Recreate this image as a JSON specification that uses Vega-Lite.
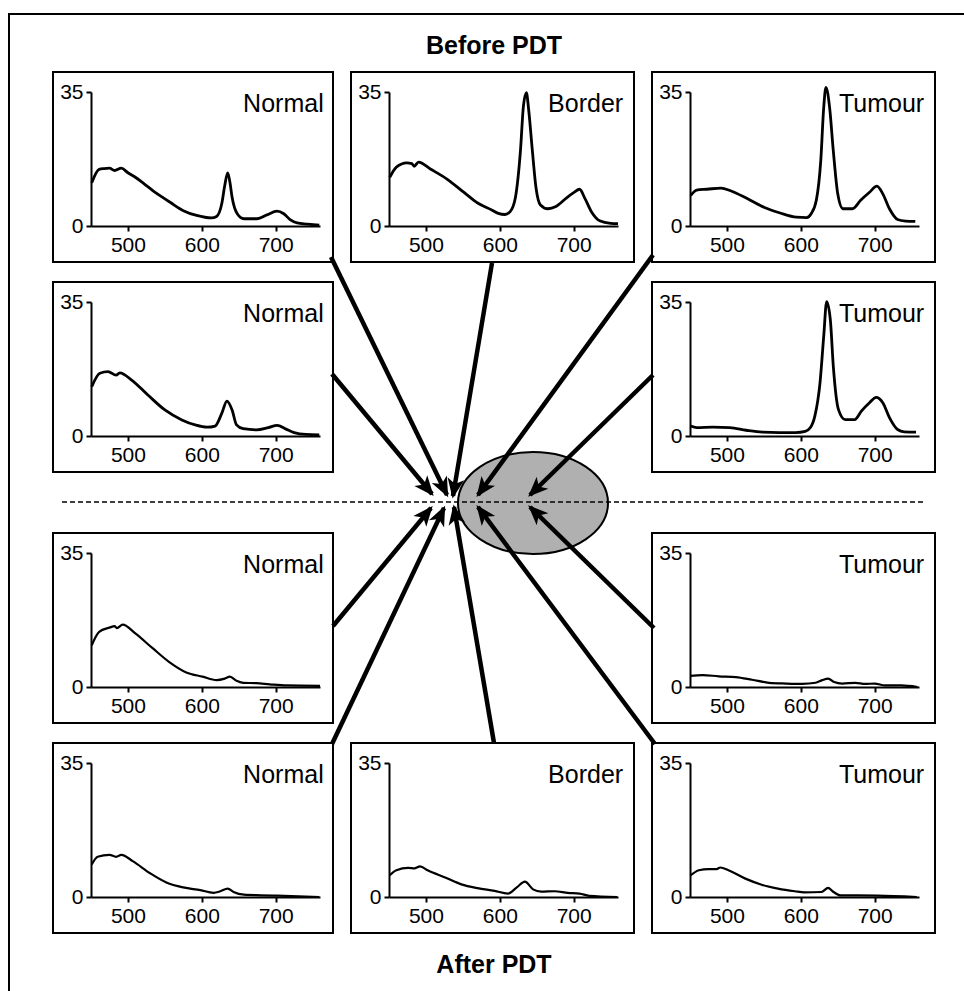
{
  "$schema": "https://vega.github.io/schema/vega-lite/v6.json",
  "padding": {"left": 7, "top": 12, "right": 0, "bottom": 0},
  "background": "white",
  "datasets": {
    "spectra": [
      {"p":"n1","nm":451,"v":11.3},{"p":"n1","nm":461,"v":14.8},{"p":"n1","nm":468,"v":15.0},{"p":"n1","nm":475,"v":15.1},{"p":"n1","nm":482,"v":14.5},{"p":"n1","nm":491,"v":15.1},{"p":"n1","nm":500,"v":13.9},{"p":"n1","nm":511,"v":12.6},{"p":"n1","nm":522,"v":11.0},{"p":"n1","nm":534,"v":9.2},{"p":"n1","nm":546,"v":7.6},{"p":"n1","nm":557,"v":6.2},{"p":"n1","nm":575,"v":4.0},{"p":"n1","nm":593,"v":2.75},{"p":"n1","nm":613,"v":2.1},{"p":"n1","nm":620,"v":2.5},{"p":"n1","nm":627,"v":5.8},{"p":"n1","nm":631,"v":10.5},{"p":"n1","nm":635,"v":13.9},{"p":"n1","nm":638,"v":11.5},{"p":"n1","nm":641,"v":7.5},{"p":"n1","nm":648,"v":3.2},{"p":"n1","nm":657,"v":1.9},{"p":"n1","nm":675,"v":1.9},{"p":"n1","nm":688,"v":2.9},{"p":"n1","nm":702,"v":3.9},{"p":"n1","nm":711,"v":3.2},{"p":"n1","nm":720,"v":1.6},{"p":"n1","nm":729,"v":0.8},{"p":"n1","nm":743,"v":0.5},{"p":"n1","nm":759,"v":0.2},
      {"p":"b1","nm":451,"v":12.7},{"p":"b1","nm":460,"v":15.4},{"p":"b1","nm":474,"v":16.5},{"p":"b1","nm":481,"v":16.3},{"p":"b1","nm":484,"v":15.6},{"p":"b1","nm":490,"v":16.7},{"p":"b1","nm":506,"v":14.9},{"p":"b1","nm":529,"v":12.2},{"p":"b1","nm":552,"v":8.7},{"p":"b1","nm":570,"v":6.0},{"p":"b1","nm":589,"v":4.2},{"p":"b1","nm":598,"v":3.3},{"p":"b1","nm":607,"v":3.0},{"p":"b1","nm":614,"v":3.75},{"p":"b1","nm":621,"v":7.3},{"p":"b1","nm":628,"v":19.8},{"p":"b1","nm":632,"v":31.4},{"p":"b1","nm":636,"v":34.8},{"p":"b1","nm":639,"v":30.5},{"p":"b1","nm":644,"v":19.8},{"p":"b1","nm":649,"v":10.0},{"p":"b1","nm":655,"v":5.5},{"p":"b1","nm":665,"v":4.5},{"p":"b1","nm":676,"v":5.1},{"p":"b1","nm":690,"v":7.3},{"p":"b1","nm":700,"v":8.7},{"p":"b1","nm":708,"v":9.6},{"p":"b1","nm":715,"v":7.3},{"p":"b1","nm":724,"v":3.75},{"p":"b1","nm":736,"v":1.3},{"p":"b1","nm":750,"v":0.7},{"p":"b1","nm":760,"v":0.6},
      {"p":"t1","nm":451,"v":8.0},{"p":"t1","nm":459,"v":9.4},{"p":"t1","nm":473,"v":9.6},{"p":"t1","nm":492,"v":9.9},{"p":"t1","nm":505,"v":9.2},{"p":"t1","nm":528,"v":7.1},{"p":"t1","nm":550,"v":4.9},{"p":"t1","nm":572,"v":3.4},{"p":"t1","nm":594,"v":2.3},{"p":"t1","nm":608,"v":2.2},{"p":"t1","nm":614,"v":3.2},{"p":"t1","nm":621,"v":6.7},{"p":"t1","nm":627,"v":17.0},{"p":"t1","nm":631,"v":30.9},{"p":"t1","nm":634,"v":36.2},{"p":"t1","nm":639,"v":30.9},{"p":"t1","nm":644,"v":19.6},{"p":"t1","nm":650,"v":8.4},{"p":"t1","nm":657,"v":4.5},{"p":"t1","nm":670,"v":4.5},{"p":"t1","nm":681,"v":6.7},{"p":"t1","nm":693,"v":8.8},{"p":"t1","nm":703,"v":10.4},{"p":"t1","nm":711,"v":8.4},{"p":"t1","nm":720,"v":4.5},{"p":"t1","nm":731,"v":1.7},{"p":"t1","nm":742,"v":1.3},{"p":"t1","nm":755,"v":1.2},
      {"p":"n2","nm":451,"v":12.9},{"p":"n2","nm":462,"v":16.4},{"p":"n2","nm":473,"v":16.8},{"p":"n2","nm":484,"v":15.9},{"p":"n2","nm":489,"v":16.5},{"p":"n2","nm":505,"v":14.6},{"p":"n2","nm":527,"v":10.7},{"p":"n2","nm":550,"v":6.8},{"p":"n2","nm":573,"v":4.2},{"p":"n2","nm":591,"v":2.9},{"p":"n2","nm":607,"v":2.3},{"p":"n2","nm":618,"v":2.6},{"p":"n2","nm":627,"v":5.9},{"p":"n2","nm":634,"v":9.1},{"p":"n2","nm":641,"v":6.8},{"p":"n2","nm":647,"v":2.9},{"p":"n2","nm":656,"v":1.9},{"p":"n2","nm":674,"v":1.6},{"p":"n2","nm":690,"v":2.2},{"p":"n2","nm":702,"v":2.8},{"p":"n2","nm":714,"v":1.8},{"p":"n2","nm":725,"v":0.9},{"p":"n2","nm":741,"v":0.4},{"p":"n2","nm":759,"v":0.3},
      {"p":"t2","nm":451,"v":2.6},{"p":"t2","nm":459,"v":2.2},{"p":"t2","nm":481,"v":2.3},{"p":"t2","nm":504,"v":2.2},{"p":"t2","nm":526,"v":1.5},{"p":"t2","nm":548,"v":1.0},{"p":"t2","nm":571,"v":0.9},{"p":"t2","nm":593,"v":0.9},{"p":"t2","nm":606,"v":1.2},{"p":"t2","nm":613,"v":2.2},{"p":"t2","nm":619,"v":5.2},{"p":"t2","nm":626,"v":13.9},{"p":"t2","nm":631,"v":26.0},{"p":"t2","nm":635,"v":35.1},{"p":"t2","nm":640,"v":30.3},{"p":"t2","nm":644,"v":18.2},{"p":"t2","nm":651,"v":6.9},{"p":"t2","nm":660,"v":4.3},{"p":"t2","nm":673,"v":4.3},{"p":"t2","nm":682,"v":6.5},{"p":"t2","nm":693,"v":8.7},{"p":"t2","nm":702,"v":10.1},{"p":"t2","nm":711,"v":8.7},{"p":"t2","nm":720,"v":4.8},{"p":"t2","nm":731,"v":1.7},{"p":"t2","nm":740,"v":1.1},{"p":"t2","nm":756,"v":1.0},
      {"p":"n3","nm":451,"v":10.9},{"p":"n3","nm":461,"v":14.4},{"p":"n3","nm":475,"v":15.5},{"p":"n3","nm":482,"v":15.9},{"p":"n3","nm":485,"v":15.4},{"p":"n3","nm":493,"v":16.3},{"p":"n3","nm":510,"v":14.0},{"p":"n3","nm":533,"v":10.2},{"p":"n3","nm":556,"v":6.5},{"p":"n3","nm":579,"v":3.8},{"p":"n3","nm":601,"v":2.7},{"p":"n3","nm":620,"v":1.8},{"p":"n3","nm":631,"v":2.2},{"p":"n3","nm":638,"v":2.7},{"p":"n3","nm":647,"v":1.6},{"p":"n3","nm":656,"v":1.1},{"p":"n3","nm":674,"v":1.0},{"p":"n3","nm":692,"v":0.7},{"p":"n3","nm":715,"v":0.4},{"p":"n3","nm":760,"v":0.3},
      {"p":"t3","nm":450,"v":2.9},{"p":"t3","nm":467,"v":3.1},{"p":"t3","nm":489,"v":2.8},{"p":"t3","nm":512,"v":2.6},{"p":"t3","nm":534,"v":1.9},{"p":"t3","nm":557,"v":1.1},{"p":"t3","nm":580,"v":0.9},{"p":"t3","nm":602,"v":0.8},{"p":"t3","nm":620,"v":1.1},{"p":"t3","nm":629,"v":1.8},{"p":"t3","nm":637,"v":2.2},{"p":"t3","nm":645,"v":1.3},{"p":"t3","nm":656,"v":0.9},{"p":"t3","nm":674,"v":1.1},{"p":"t3","nm":687,"v":0.8},{"p":"t3","nm":700,"v":0.9},{"p":"t3","nm":714,"v":0.4},{"p":"t3","nm":736,"v":0.4},{"p":"t3","nm":758,"v":0.0},
      {"p":"n4","nm":451,"v":8.5},{"p":"n4","nm":459,"v":10.5},{"p":"n4","nm":475,"v":11.0},{"p":"n4","nm":484,"v":10.5},{"p":"n4","nm":491,"v":11.0},{"p":"n4","nm":507,"v":9.3},{"p":"n4","nm":530,"v":6.2},{"p":"n4","nm":552,"v":3.8},{"p":"n4","nm":575,"v":2.5},{"p":"n4","nm":598,"v":1.8},{"p":"n4","nm":616,"v":1.1},{"p":"n4","nm":625,"v":1.5},{"p":"n4","nm":635,"v":2.2},{"p":"n4","nm":643,"v":1.3},{"p":"n4","nm":657,"v":0.6},{"p":"n4","nm":680,"v":0.45},{"p":"n4","nm":702,"v":0.35},{"p":"n4","nm":759,"v":0.0},
      {"p":"b4","nm":451,"v":5.7},{"p":"b4","nm":460,"v":7.0},{"p":"b4","nm":476,"v":7.6},{"p":"b4","nm":485,"v":7.5},{"p":"b4","nm":492,"v":8.0},{"p":"b4","nm":503,"v":6.9},{"p":"b4","nm":526,"v":5.1},{"p":"b4","nm":548,"v":3.3},{"p":"b4","nm":570,"v":2.3},{"p":"b4","nm":593,"v":1.6},{"p":"b4","nm":611,"v":0.9},{"p":"b4","nm":623,"v":2.5},{"p":"b4","nm":634,"v":4.0},{"p":"b4","nm":645,"v":2.0},{"p":"b4","nm":656,"v":1.4},{"p":"b4","nm":674,"v":1.5},{"p":"b4","nm":692,"v":1.1},{"p":"b4","nm":708,"v":0.9},{"p":"b4","nm":721,"v":0.3},{"p":"b4","nm":759,"v":0.0},
      {"p":"t4","nm":451,"v":5.7},{"p":"t4","nm":462,"v":7.0},{"p":"t4","nm":475,"v":7.3},{"p":"t4","nm":486,"v":7.3},{"p":"t4","nm":491,"v":7.7},{"p":"t4","nm":502,"v":7.0},{"p":"t4","nm":525,"v":4.8},{"p":"t4","nm":547,"v":3.2},{"p":"t4","nm":569,"v":2.2},{"p":"t4","nm":592,"v":1.5},{"p":"t4","nm":605,"v":1.2},{"p":"t4","nm":628,"v":1.3},{"p":"t4","nm":637,"v":2.4},{"p":"t4","nm":643,"v":1.5},{"p":"t4","nm":654,"v":0.4},{"p":"t4","nm":677,"v":0.4},{"p":"t4","nm":704,"v":0.35},{"p":"t4","nm":757,"v":0.0}
    ],
    "labels": [
      {"p":"n1","label":"Normal"},{"p":"b1","label":"Border"},{"p":"t1","label":"Tumour"},
      {"p":"n2","label":"Normal"},{"p":"t2","label":"Tumour"},
      {"p":"n3","label":"Normal"},{"p":"t3","label":"Tumour"},
      {"p":"n4","label":"Normal"},{"p":"b4","label":"Border"},{"p":"t4","label":"Tumour"}
    ],
    "headings": [{"when":"before","text":"Before PDT"},{"when":"after","text":"After PDT"}],
    "frame": [
      {"x1":8,"y1":13,"x2":8,"y2":989},
      {"x1":8,"y1":13,"x2":962,"y2":13}
    ],
    "divider": [{"x1":61,"y1":501,"x2":922,"y2":501}],
    "lesion": [{"x":532,"y":502}],
    "arrows": [
      {"from":"n1","x1":330,"y1":256,"x2":446,"y2":494},
      {"from":"n2","x1":331,"y1":373,"x2":431,"y2":493},
      {"from":"b1","x1":491,"y1":262,"x2":452,"y2":495},
      {"from":"t1","x1":652,"y1":254,"x2":477,"y2":494},
      {"from":"t2","x1":652,"y1":374,"x2":529,"y2":494},
      {"from":"n3","x1":332,"y1":625,"x2":430,"y2":507},
      {"from":"n4","x1":331,"y1":743,"x2":443,"y2":507},
      {"from":"b4","x1":493,"y1":742,"x2":453,"y2":506},
      {"from":"t4","x1":654,"y1":743,"x2":477,"y2":506},
      {"from":"t3","x1":653,"y1":627,"x2":529,"y2":506}
    ]
  },
  "columns": 3,
  "spacing": {"row": 20, "column": 18},
  "bounds": "flush",
  "concat": [
    {"width": 280, "height": 190, "layer": [
      {"data": {"name": "spectra"}, "transform": [{"filter": "datum.p === 'n1'"}], "mark": {"type": "line", "color": "black", "strokeWidth": 2.8, "interpolate": "monotone"},
       "encoding": {"x": {"field": "nm", "type": "quantitative", "scale": {"domain": [450, 760], "range": [38, 267], "nice": false, "zero": false}, "axis": {"values": [500, 600, 700], "offset": -36, "title": null}},
                    "y": {"field": "v", "type": "quantitative", "scale": {"domain": [0, 35], "range": [154, 20], "nice": false}, "axis": {"values": [0, 35], "offset": -38, "title": null}}}},
      {"data": {"name": "labels"}, "transform": [{"filter": "datum.p === 'n1'"}], "mark": {"type": "text", "align": "right", "baseline": "alphabetic", "fontSize": 25, "font": "Liberation Sans", "color": "black"},
       "encoding": {"text": {"field": "label"}, "x": {"datum": 765}, "y": {"datum": 29.8}}}
    ]},
    {"width": 283, "height": 190, "layer": [
      {"data": {"name": "spectra"}, "transform": [{"filter": "datum.p === 'b1'"}], "mark": {"type": "line", "color": "black", "strokeWidth": 2.8, "interpolate": "monotone"},
       "encoding": {"x": {"field": "nm", "type": "quantitative", "scale": {"domain": [450, 760], "range": [38, 267], "nice": false, "zero": false}, "axis": {"values": [500, 600, 700], "offset": -36, "title": null}},
                    "y": {"field": "v", "type": "quantitative", "scale": {"domain": [0, 35], "range": [154, 20], "nice": false}, "axis": {"values": [0, 35], "offset": -38, "title": null}}}},
      {"data": {"name": "labels"}, "transform": [{"filter": "datum.p === 'b1'"}], "mark": {"type": "text", "align": "right", "baseline": "alphabetic", "fontSize": 25, "font": "Liberation Sans", "color": "black"},
       "encoding": {"text": {"field": "label"}, "x": {"datum": 767}, "y": {"datum": 29.8}}}
    ]},
    {"width": 283, "height": 190, "layer": [
      {"data": {"name": "spectra"}, "transform": [{"filter": "datum.p === 't1'"}], "mark": {"type": "line", "color": "black", "strokeWidth": 2.8, "interpolate": "monotone"},
       "encoding": {"x": {"field": "nm", "type": "quantitative", "scale": {"domain": [450, 760], "range": [38, 267], "nice": false, "zero": false}, "axis": {"values": [500, 600, 700], "offset": -36, "title": null}},
                    "y": {"field": "v", "type": "quantitative", "scale": {"domain": [0, 35], "range": [154, 20], "nice": false}, "axis": {"values": [0, 35], "offset": -38, "title": null}}}},
      {"data": {"name": "labels"}, "transform": [{"filter": "datum.p === 't1'"}], "mark": {"type": "text", "align": "right", "baseline": "alphabetic", "fontSize": 25, "font": "Liberation Sans", "color": "black"},
       "encoding": {"text": {"field": "label"}, "x": {"datum": 767}, "y": {"datum": 29.8}}}
    ]},
    {"width": 280, "height": 190, "layer": [
      {"data": {"name": "spectra"}, "transform": [{"filter": "datum.p === 'n2'"}], "mark": {"type": "line", "color": "black", "strokeWidth": 2.8, "interpolate": "monotone"},
       "encoding": {"x": {"field": "nm", "type": "quantitative", "scale": {"domain": [450, 760], "range": [38, 267], "nice": false, "zero": false}, "axis": {"values": [500, 600, 700], "offset": -36, "title": null}},
                    "y": {"field": "v", "type": "quantitative", "scale": {"domain": [0, 35], "range": [154, 20], "nice": false}, "axis": {"values": [0, 35], "offset": -38, "title": null}}}},
      {"data": {"name": "labels"}, "transform": [{"filter": "datum.p === 'n2'"}], "mark": {"type": "text", "align": "right", "baseline": "alphabetic", "fontSize": 25, "font": "Liberation Sans", "color": "black"},
       "encoding": {"text": {"field": "label"}, "x": {"datum": 765}, "y": {"datum": 29.8}}}
    ]},
    {"width": 283, "height": 190, "view": {"stroke": null},
     "layer": [
      {"data": {"name": "frame"}, "mark": {"type": "rule", "color": "black", "strokeWidth": 2, "strokeCap": "square"},
       "encoding": {"x": {"field": "x1", "type": "quantitative", "scale": {"domain": [350, 633], "nice": false, "zero": false}, "axis": null},
                    "y": {"field": "y1", "type": "quantitative", "scale": {"domain": [281, 471], "range": [0, 190], "nice": false, "zero": false}, "axis": null},
                    "x2": {"field": "x2"}, "y2": {"field": "y2"}}},
      {"data": {"name": "headings"}, "transform": [{"filter": "datum.when === 'before'"}], "mark": {"type": "text", "align": "center", "baseline": "alphabetic", "fontSize": 25, "fontWeight": "bold", "font": "Liberation Sans", "color": "black"},
       "encoding": {"text": {"field": "text"}, "x": {"datum": 493}, "y": {"datum": 53}}},
      {"data": {"name": "headings"}, "transform": [{"filter": "datum.when === 'after'"}], "mark": {"type": "text", "align": "center", "baseline": "alphabetic", "fontSize": 25, "fontWeight": "bold", "font": "Liberation Sans", "color": "black"},
       "encoding": {"text": {"field": "text"}, "x": {"datum": 493}, "y": {"datum": 972}}},
      {"data": {"name": "lesion"}, "mark": {"type": "point", "shape": "M -1 0 C -1 -0.3756 -0.5523 -0.68 0 -0.68 C 0.5523 -0.68 1 -0.3756 1 0 C 1 0.3756 0.5523 0.68 0 0.68 C -0.5523 0.68 -1 0.3756 -1 0 Z", "size": 22500, "filled": true, "fill": "#b0b0b0", "stroke": "black", "strokeWidth": 2, "opacity": 1},
       "encoding": {"x": {"field": "x", "type": "quantitative"}, "y": {"field": "y", "type": "quantitative"}}},
      {"data": {"name": "divider"}, "mark": {"type": "rule", "color": "black", "strokeWidth": 1.5, "strokeDash": [5, 3]},
       "encoding": {"x": {"field": "x1", "type": "quantitative"}, "y": {"field": "y1", "type": "quantitative"}, "x2": {"field": "x2"}, "y2": {"field": "y2"}}},
      {"data": {"name": "arrows"}, "mark": {"type": "rule", "color": "black", "strokeWidth": 4.5},
       "encoding": {"x": {"field": "x1", "type": "quantitative"}, "y": {"field": "y1", "type": "quantitative"}, "x2": {"field": "x2"}, "y2": {"field": "y2"}}},
      {"data": {"name": "arrows"}, "transform": [{"calculate": "atan2(datum.y2 - datum.y1, datum.x2 - datum.x1) * 180 / PI", "as": "ang"}],
       "mark": {"type": "point", "shape": "M 0.15 0 L -1 -0.48 L -0.7 0 L -1 0.48 Z", "size": 1225, "filled": true, "color": "black", "opacity": 1},
       "encoding": {"x": {"field": "x2", "type": "quantitative"}, "y": {"field": "y2", "type": "quantitative"}, "angle": {"field": "ang", "type": "quantitative", "scale": null}}}
     ]},
    {"width": 283, "height": 190, "layer": [
      {"data": {"name": "spectra"}, "transform": [{"filter": "datum.p === 't2'"}], "mark": {"type": "line", "color": "black", "strokeWidth": 2.8, "interpolate": "monotone"},
       "encoding": {"x": {"field": "nm", "type": "quantitative", "scale": {"domain": [450, 760], "range": [38, 267], "nice": false, "zero": false}, "axis": {"values": [500, 600, 700], "offset": -36, "title": null}},
                    "y": {"field": "v", "type": "quantitative", "scale": {"domain": [0, 35], "range": [154, 20], "nice": false}, "axis": {"values": [0, 35], "offset": -38, "title": null}}}},
      {"data": {"name": "labels"}, "transform": [{"filter": "datum.p === 't2'"}], "mark": {"type": "text", "align": "right", "baseline": "alphabetic", "fontSize": 25, "font": "Liberation Sans", "color": "black"},
       "encoding": {"text": {"field": "label"}, "x": {"datum": 767}, "y": {"datum": 29.8}}}
    ]},
    {"width": 280, "height": 21, "view": {"stroke": null}, "data": {"values": []}, "mark": "point"},
    {"width": 283, "height": 21, "view": {"stroke": null}, "data": {"values": []}, "mark": "point"},
    {"width": 283, "height": 21, "view": {"stroke": null}, "data": {"values": []}, "mark": "point"},
    {"width": 280, "height": 190, "layer": [
      {"data": {"name": "spectra"}, "transform": [{"filter": "datum.p === 'n3'"}], "mark": {"type": "line", "color": "black", "strokeWidth": 2.2, "interpolate": "monotone"},
       "encoding": {"x": {"field": "nm", "type": "quantitative", "scale": {"domain": [450, 760], "range": [38, 267], "nice": false, "zero": false}, "axis": {"values": [500, 600, 700], "offset": -36, "title": null}},
                    "y": {"field": "v", "type": "quantitative", "scale": {"domain": [0, 35], "range": [154, 20], "nice": false}, "axis": {"values": [0, 35], "offset": -38, "title": null}}}},
      {"data": {"name": "labels"}, "transform": [{"filter": "datum.p === 'n3'"}], "mark": {"type": "text", "align": "right", "baseline": "alphabetic", "fontSize": 25, "font": "Liberation Sans", "color": "black"},
       "encoding": {"text": {"field": "label"}, "x": {"datum": 765}, "y": {"datum": 29.8}}}
    ]},
    {"width": 283, "height": 190, "view": {"stroke": null}, "data": {"values": []}, "mark": "point"},
    {"width": 283, "height": 190, "layer": [
      {"data": {"name": "spectra"}, "transform": [{"filter": "datum.p === 't3'"}], "mark": {"type": "line", "color": "black", "strokeWidth": 2.2, "interpolate": "monotone"},
       "encoding": {"x": {"field": "nm", "type": "quantitative", "scale": {"domain": [450, 760], "range": [38, 267], "nice": false, "zero": false}, "axis": {"values": [500, 600, 700], "offset": -36, "title": null}},
                    "y": {"field": "v", "type": "quantitative", "scale": {"domain": [0, 35], "range": [154, 20], "nice": false}, "axis": {"values": [0, 35], "offset": -38, "title": null}}}},
      {"data": {"name": "labels"}, "transform": [{"filter": "datum.p === 't3'"}], "mark": {"type": "text", "align": "right", "baseline": "alphabetic", "fontSize": 25, "font": "Liberation Sans", "color": "black"},
       "encoding": {"text": {"field": "label"}, "x": {"datum": 767}, "y": {"datum": 29.8}}}
    ]},
    {"width": 280, "height": 190, "layer": [
      {"data": {"name": "spectra"}, "transform": [{"filter": "datum.p === 'n4'"}], "mark": {"type": "line", "color": "black", "strokeWidth": 2.2, "interpolate": "monotone"},
       "encoding": {"x": {"field": "nm", "type": "quantitative", "scale": {"domain": [450, 760], "range": [38, 267], "nice": false, "zero": false}, "axis": {"values": [500, 600, 700], "offset": -36, "title": null}},
                    "y": {"field": "v", "type": "quantitative", "scale": {"domain": [0, 35], "range": [154, 20], "nice": false}, "axis": {"values": [0, 35], "offset": -38, "title": null}}}},
      {"data": {"name": "labels"}, "transform": [{"filter": "datum.p === 'n4'"}], "mark": {"type": "text", "align": "right", "baseline": "alphabetic", "fontSize": 25, "font": "Liberation Sans", "color": "black"},
       "encoding": {"text": {"field": "label"}, "x": {"datum": 765}, "y": {"datum": 29.8}}}
    ]},
    {"width": 283, "height": 190, "layer": [
      {"data": {"name": "spectra"}, "transform": [{"filter": "datum.p === 'b4'"}], "mark": {"type": "line", "color": "black", "strokeWidth": 2.2, "interpolate": "monotone"},
       "encoding": {"x": {"field": "nm", "type": "quantitative", "scale": {"domain": [450, 760], "range": [38, 267], "nice": false, "zero": false}, "axis": {"values": [500, 600, 700], "offset": -36, "title": null}},
                    "y": {"field": "v", "type": "quantitative", "scale": {"domain": [0, 35], "range": [154, 20], "nice": false}, "axis": {"values": [0, 35], "offset": -38, "title": null}}}},
      {"data": {"name": "labels"}, "transform": [{"filter": "datum.p === 'b4'"}], "mark": {"type": "text", "align": "right", "baseline": "alphabetic", "fontSize": 25, "font": "Liberation Sans", "color": "black"},
       "encoding": {"text": {"field": "label"}, "x": {"datum": 767}, "y": {"datum": 29.8}}}
    ]},
    {"width": 283, "height": 190, "layer": [
      {"data": {"name": "spectra"}, "transform": [{"filter": "datum.p === 't4'"}], "mark": {"type": "line", "color": "black", "strokeWidth": 2.2, "interpolate": "monotone"},
       "encoding": {"x": {"field": "nm", "type": "quantitative", "scale": {"domain": [450, 760], "range": [38, 267], "nice": false, "zero": false}, "axis": {"values": [500, 600, 700], "offset": -36, "title": null}},
                    "y": {"field": "v", "type": "quantitative", "scale": {"domain": [0, 35], "range": [154, 20], "nice": false}, "axis": {"values": [0, 35], "offset": -38, "title": null}}}},
      {"data": {"name": "labels"}, "transform": [{"filter": "datum.p === 't4'"}], "mark": {"type": "text", "align": "right", "baseline": "alphabetic", "fontSize": 25, "font": "Liberation Sans", "color": "black"},
       "encoding": {"text": {"field": "label"}, "x": {"datum": 767}, "y": {"datum": 29.8}}}
    ]}
  ],
  "config": {
    "font": "Liberation Sans",
    "view": {"stroke": "black", "strokeWidth": 2},
    "axis": {"domainColor": "black", "domainWidth": 2, "tickColor": "black", "tickWidth": 2, "tickSize": 5, "labelColor": "black", "labelFont": "Liberation Sans", "labelFontSize": 21, "labelPadding": 3, "grid": false}
  }
}
